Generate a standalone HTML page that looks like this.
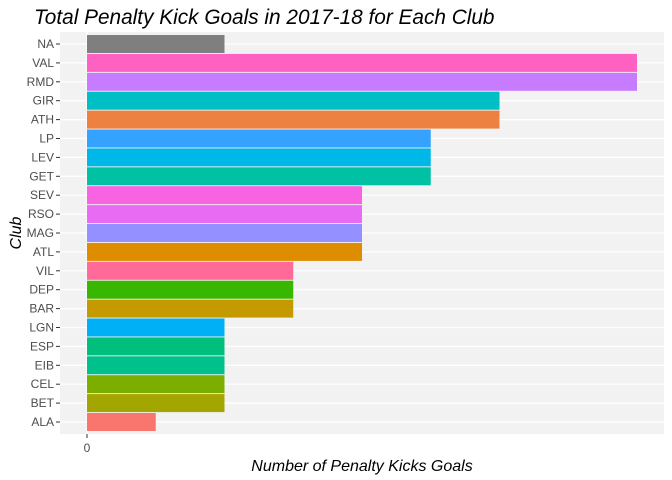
<!DOCTYPE html>
<html><head><meta charset="utf-8"><style>
body{margin:0;background:#fff;}
svg{display:block;font-family:"Liberation Sans",sans-serif;}
</style></head><body>
<svg width="672" height="480">
<text x="34" y="24" font-size="20.8" font-style="italic" fill="#000">Total Penalty Kick Goals in 2017-18 for Each Club</text>
<rect x="60" y="32" width="604" height="402" fill="#f2f2f2"/>
<g id="grid"></g>
<g id="bars"></g>
<g id="yaxis"></g>
<line x1="87" y1="434" x2="87" y2="438" stroke="#333" stroke-width="1"/>
<text x="87" y="452" font-size="12" fill="#4d4d4d" text-anchor="middle">0</text>
<text x="362" y="471" font-size="16" font-style="italic" text-anchor="middle" fill="#000">Number of Penalty Kicks Goals</text>
<text x="0" y="0" font-size="16" font-style="italic" text-anchor="middle" fill="#000" transform="translate(21,233) rotate(-90)">Club</text>
</svg>
<script>
const clubs=["NA","VAL","RMD","GIR","ATH","LP","LEV","GET","SEV","RSO","MAG","ATL","VIL","DEP","BAR","LGN","ESP","EIB","CEL","BET","ALA"];
const goals=[2,8,8,6,6,5,5,5,4,4,4,4,3,3,3,2,2,2,2,2,1];
const colors=["#7f7f7f","#ff61c3","#c77cff","#00bfc4","#ed8141","#35a2ff","#00b8e7","#00c1a3","#f763e0","#e76bf3","#9590ff","#de8c00","#ff6a98","#39b600","#c49a00","#00b0f6","#00bf7d","#00c08b","#7cae00","#a3a500","#f8766d"];
const ns="http://www.w3.org/2000/svg";
const x0=87,unit=68.75,top0=44,step=(422-44)/20;
const xs=v=>x0+v*unit;
const ys=i=>top0+i*step;
const grid=document.getElementById('grid'),bars=document.getElementById('bars'),ya=document.getElementById('yaxis');
const vg=document.createElementNS(ns,'line');


vg.setAttribute('x1',xs(0));vg.setAttribute('x2',xs(0));vg.setAttribute('y1',32);vg.setAttribute('y2',434);vg.setAttribute('stroke','#fff');vg.setAttribute('stroke-width','1.2');
grid.appendChild(vg);
clubs.forEach((c,i)=>{
 const y=ys(i);
 const g=document.createElementNS(ns,'line');
 
 
 g.setAttribute('x1',60);g.setAttribute('x2',664);g.setAttribute('y1',y);g.setAttribute('y2',y);g.setAttribute('stroke','#fff');g.setAttribute('stroke-width','1.2');
 grid.appendChild(g);
 const r=document.createElementNS(ns,'rect');
 
 
 r.setAttribute('x',xs(0));r.setAttribute('y',y-9);r.setAttribute('width',xs(goals[i])-xs(0));r.setAttribute('height',18);r.setAttribute('fill',colors[i]);
 bars.appendChild(r);
 const t=document.createElementNS(ns,'line');
 
 
 t.setAttribute('x1',56);t.setAttribute('x2',60);t.setAttribute('y1',y);t.setAttribute('y2',y);t.setAttribute('stroke','#333');
 ya.appendChild(t);
 const l=document.createElementNS(ns,'text');
 
 
 l.setAttribute('x',54);l.setAttribute('y',y+4);l.setAttribute('font-size','12');l.setAttribute('fill','#4d4d4d');l.setAttribute('text-anchor','end');
 l.textContent=c;
 ya.appendChild(l);
});
</script>
</body></html>
